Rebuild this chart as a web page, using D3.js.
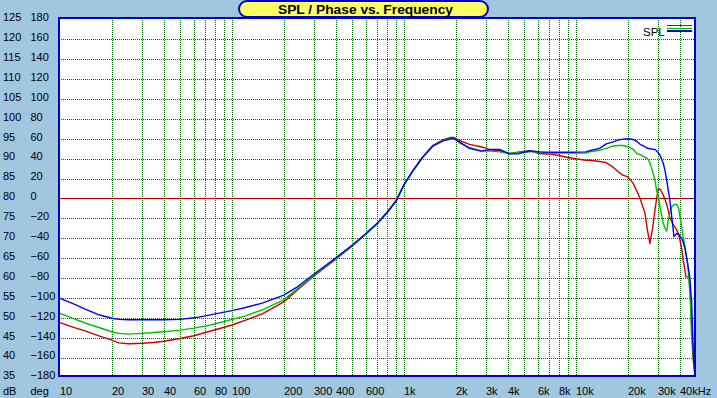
<!DOCTYPE html>
<html><head><meta charset="utf-8">
<script src="https://cdn.jsdelivr.net/npm/d3@7"></script>
<style>body{margin:0;background:#A0C6E0;} svg{display:block}</style>
</head><body><svg id="c" width="717" height="398"></svg>
<script>
const freqs = [10,12,14,17,20,22,25,30,35,40,50,60,70,80,100,120,150,200,240,300,400,500,600,700,800,900,1000,1130,1280,1470,1690,1850,1950,2100,2400,2800,3200,3600,4100,4600,5400,6100,7300,8300,9500,11400,12000,13700,15000,16500,17600,18800,20000,21500,22500,23600,25200,26000,26900,27800,28800,29400,30100,30800,31100,32200,33000,33700,34400,35000,36000,36500,37100,38500,39500,40600,41200,42000,43000,43600,44600,45600,46000,46600,47000,48100,49200];
const splBlue = [54.9,53.5,52.2,50.7,49.9,49.6,49.5,49.5,49.5,49.5,49.6,50.0,50.5,51.0,51.8,52.6,53.7,55.7,57.8,61.0,65.0,68.3,71.2,73.8,76.6,79.4,83.5,87.1,90.3,93.2,94.5,94.9,95.1,94.2,92.6,91.9,92.3,92.3,91.2,91.2,92.0,91.7,91.6,91.6,91.6,91.7,92.0,92.6,93.7,94.2,94.7,94.9,95.0,94.8,94.4,93.6,93.0,92.6,92.5,92.4,92.3,92.0,91.5,90.9,90.4,88.8,86.8,84.6,82.0,80.2,75.5,73.5,70.4,71.2,71.0,70.3,70.0,69.0,67.5,66.2,63.5,61.0,59.5,56.0,54.5,41.0,35.6];
const splGreen = [51.1,49.8,48.7,47.5,46.5,46.1,45.9,46.1,46.3,46.5,46.9,47.4,47.9,48.5,49.6,50.5,52.0,54.5,57.3,60.7,64.8,68.1,71.0,73.6,76.4,79.2,83.3,86.9,90.2,93.1,94.6,95.0,95.1,94.0,92.8,92.0,91.9,91.7,91.3,91.5,91.7,91.7,91.4,91.4,91.4,91.4,91.7,92.1,92.6,93.2,93.3,93.3,93.0,92.4,91.3,91.0,90.4,90.0,89.0,87.0,84.6,82.1,80.5,77.9,77.0,73.7,72.5,71.8,74.6,76.2,77.8,78.2,78.5,78.5,77.5,74.6,72.8,70.5,67.9,66.0,63.7,58.0,56.2,50.0,45.3,39.4,35.6];
const splRed = [48.8,47.6,46.7,45.4,44.4,43.7,43.5,43.6,43.8,44.1,44.8,45.5,46.3,47.0,48.2,49.4,51.0,54.0,57.0,60.5,64.7,68.0,71.0,73.7,76.6,79.5,83.5,87.0,90.3,93.3,94.8,95.3,95.3,94.6,93.6,93.0,92.2,92.0,91.3,91.6,92.0,91.3,91.1,90.6,90.1,89.6,89.6,89.3,89.0,87.8,86.7,85.8,85.5,83.8,82.0,80.0,76.3,72.1,68.7,72.1,77.1,79.8,82.5,82.3,82.1,80.8,79.6,78.5,77.0,75.4,74.3,73.7,73.2,72.1,71.0,68.7,67.3,64.5,62.0,60.3,60.3,60.3,57.0,52.8,49.0,39.4,35.6];
const phaseFreqs = [10, 50000];
const phaseDeg = [0, 0];
const dbTicks = [125,120,115,110,105,100,95,90,85,80,75,70,65,60,55,50,45,40,35];
const degTicks = [180,160,140,120,100,80,60,40,20,0,-20,-40,-60,-80,-100,-120,-140,-160,-180];
const xTickValues = [10,20,30,40,60,80,100,200,300,400,600,1000,2000,3000,4000,6000,8000,10000,20000,30000,40000];
const xTickLabels = ["10","20","30","40","60","80","100","200","300","400","600","1k","2k","3k","4k","6k","8k","10k","20k","30k","40kHz"];
const xGridValues = [20,30,40,50,60,70,80,90,100,200,300,400,500,600,700,800,900,1000,2000,3000,4000,5000,6000,7000,8000,9000,10000,20000,30000,40000];
const yGridValues = [120,115,110,105,100,95,90,85,75,70,65,60,55,50,45,40];
const titleText = "SPL / Phase vs. Frequency";
const legendText = "SPL";
const seriesColors = ["#CC0000","#00C000","#0000FF"];

const svg = d3.select("#c");
const font = "'Liberation Sans', Arial, sans-serif";
const fs = 11;
const x = d3.scaleLog().domain([10, 50000]).range([60, 696.2]);
const y = d3.scaleLinear().domain([35, 125]).range([377.5, 19.4]);
const yDeg = d3.scaleLinear().domain([-180, 180]).range([377.5, 19.4]);
const L = 59, T = 18, R = 695, B = 376;

svg.append("rect").attr("width",717).attr("height",398).attr("fill","#A0C6E0");
svg.append("rect").attr("x",L).attr("y",T).attr("width",R-L).attr("height",B-T).attr("fill","#fff");

svg.append("clipPath").attr("id","pc").append("rect").attr("x",L).attr("y",T).attr("width",R-L).attr("height",B-T);

const grid = svg.append("g").attr("stroke","#007000").attr("stroke-width",1).attr("stroke-dasharray","1,1").attr("shape-rendering","crispEdges");
grid.selectAll("line.v").data(xGridValues).join("line").attr("class","v")
  .attr("x1",d=>Math.round(x(d))+0.5).attr("x2",d=>Math.round(x(d))+0.5).attr("y1",T).attr("y2",B);
grid.selectAll("line.h").data(yGridValues).join("line").attr("class","h")
  .attr("y1",d=>Math.round(y(d))+0.5).attr("y2",d=>Math.round(y(d))+0.5).attr("x1",L).attr("x2",R);

const plot = svg.append("g").attr("clip-path","url(#pc)");
plot.append("path").datum(phaseFreqs.map((f,i)=>[f,phaseDeg[i]]))
  .attr("d", d3.line().x(d=>x(d[0])).y(d=>Math.round(yDeg(d[1]))+0.5))
  .attr("fill","none").attr("stroke","#B00000").attr("stroke-width",1.2).attr("shape-rendering","crispEdges");

const line = d3.line().x(d=>x(d[0])).y(d=>y(d[1]));
[splRed, splGreen, splBlue].forEach((vals, k) => {
  plot.append("path").datum(freqs.map((f,i)=>[f,vals[i]]))
    .attr("d", line).attr("fill","none").attr("stroke",seriesColors[k]).attr("stroke-width",1.4)
    .attr("stroke-linejoin","round");
});

svg.append("rect").attr("x",L).attr("y",T).attr("width",R-L).attr("height",B-T)
  .attr("fill","none").attr("stroke","#0000C8").attr("stroke-width",2);

// left axes
const axDb = d3.axisLeft(y).tickValues(dbTicks).tickSize(0).tickFormat(d3.format("d"));
const gDb = svg.append("g").call(axDb);
gDb.select(".domain").remove();
gDb.selectAll("text").attr("x",3).attr("dy",0).attr("y",1.3).attr("text-anchor","start")
  .attr("font-family",font).attr("font-size",fs).attr("fill","#000");

const axDeg = d3.axisLeft(yDeg).tickValues(degTicks).tickSize(0).tickFormat(d3.format("d"));
const gDeg = svg.append("g").call(axDeg);
gDeg.select(".domain").remove();
gDeg.selectAll("text").attr("x",30.5).attr("dy",0).attr("y",1.3).attr("text-anchor","start")
  .attr("font-family",font).attr("font-size",fs).attr("fill","#000");

const axX = d3.axisBottom(x).tickValues(xTickValues).tickSize(0).tickFormat((d,i)=>xTickLabels[i]);
const gX = svg.append("g").call(axX);
gX.select(".domain").remove();
gX.selectAll("text").attr("y",395).attr("dy",0).attr("x",0).attr("text-anchor","start")
  .attr("font-family",font).attr("font-size",fs).attr("fill","#000");
gX.selectAll(".tick").attr("transform",d=>`translate(${Math.round(x(d))},0)`);

svg.append("text").attr("x",3).attr("y",395).text("dB").attr("font-family",font).attr("font-size",fs);
svg.append("text").attr("x",30.5).attr("y",395).text("deg").attr("font-family",font).attr("font-size",fs);

// title
svg.append("rect").attr("x",239).attr("y",1).attr("width",249).attr("height",16).attr("rx",8).attr("ry",8)
  .attr("fill","#FFFF66").attr("stroke","#0000C8").attr("stroke-width",2);
svg.append("text").attr("x",365.5).attr("y",13.5).attr("text-anchor","middle").text(titleText)
  .attr("font-family",font).attr("font-size",13).attr("font-weight","bold").attr("fill","#000")
  .attr("textLength",175).attr("lengthAdjust","spacingAndGlyphs");

// legend
svg.append("text").attr("x",643).attr("y",35.5).text(legendText).attr("font-family",font).attr("font-size",11.5).attr("fill","#000");
const lg = svg.append("g").attr("shape-rendering","crispEdges");
lg.selectAll("line").data(seriesColors).join("line")
  .attr("x1",667).attr("x2",692).attr("y1",(d,i)=>25.5+i*2.7).attr("y2",(d,i)=>25.5+i*2.7)
  .attr("stroke",d=>d).attr("stroke-width",1.2);
</script></body></html>
